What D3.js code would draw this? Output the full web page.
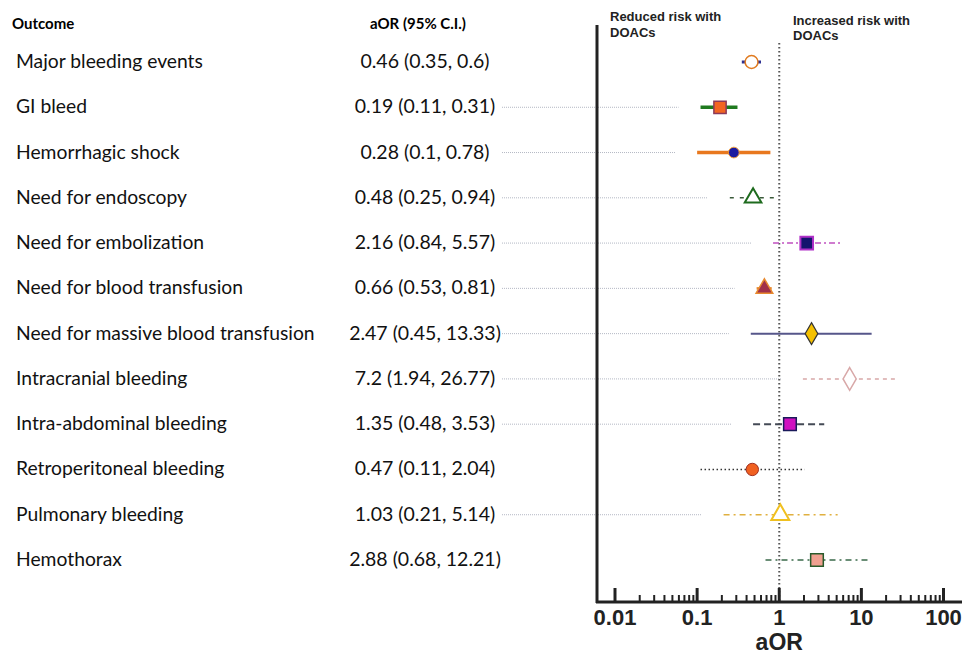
<!DOCTYPE html>
<html><head><meta charset="utf-8">
<script src="https://cdn.jsdelivr.net/npm/d3@7"></script>
<style>body{margin:0;background:#fff}svg{display:block}</style>
</head><body>
<svg id="c" width="962" height="656"></svg>
<script>
const outcomes = ["Major bleeding events","GI bleed","Hemorrhagic shock","Need for endoscopy","Need for embolization","Need for blood transfusion","Need for massive blood transfusion","Intracranial bleeding","Intra-abdominal bleeding","Retroperitoneal bleeding","Pulmonary bleeding","Hemothorax"];
const aor  = [0.46,0.19,0.28,0.48,2.16,0.66,2.47,7.2,1.35,0.47,1.03,2.88];
const low  = [0.35,0.11,0.1,0.25,0.84,0.53,0.45,1.94,0.48,0.11,0.21,0.68];
const high = [0.6,0.31,0.78,0.94,5.57,0.81,13.33,26.77,3.53,2.04,5.14,12.21];
const ciText = ["0.46 (0.35, 0.6)","0.19 (0.11, 0.31)","0.28 (0.1, 0.78)","0.48 (0.25, 0.94)","2.16 (0.84, 5.57)","0.66 (0.53, 0.81)","2.47 (0.45, 13.33)","7.2 (1.94, 26.77)","1.35 (0.48, 3.53)","0.47 (0.11, 2.04)","1.03 (0.21, 5.14)","2.88 (0.68, 12.21)"];
const tickValues = [0.01,0.1,1,10,100];
const tickLabels = ["0.01","0.1","1","10","100"];

// styles per row
const styles = [
  {sym:d3.symbolCircle, size:130, fill:"#fff", stroke:"#e07b20", sw:1.5, ci:"#2e3192", ciw:3, dash:null},
  {sym:d3.symbolSquare, size:150, fill:"#f26522", stroke:"#8b3a5a", sw:1.5, ci:"#1f7a1f", ciw:3.5, dash:null},
  {sym:d3.symbolCircle, size:90, fill:"#1a1aa0", stroke:"#f0a040", sw:1, ci:"#e8781e", ciw:3.5, dash:null},
  {sym:d3.symbolTriangle, size:120, fill:"#fff", stroke:"#1e6b1e", sw:2, ci:"#3a5a3a", ciw:1.5, dash:"4,6"},
  {sym:d3.symbolSquare, size:160, fill:"#14146e", stroke:"#b030c8", sw:2, ci:"#c050c0", ciw:1.5, dash:"6,3,2,3"},
  {sym:d3.symbolTriangle, size:120, fill:"#a0304a", stroke:"#e88a30", sw:1.5, ci:"#e88a30", ciw:2.5, dash:null},
  {sym:d3.symbolDiamond, size:140, fill:"#f5c000", stroke:"#333", sw:1.2, ci:"#56568a", ciw:2, dash:null},
  {sym:d3.symbolDiamond, size:150, fill:"#fff", stroke:"#d8a8a8", sw:1.5, ci:"#d8a8a8", ciw:1.5, dash:"4,4"},
  {sym:d3.symbolSquare, size:160, fill:"#d010c0", stroke:"#1a1a5a", sw:1.5, ci:"#444a55", ciw:2, dash:"7,4"},
  {sym:d3.symbolCircle, size:120, fill:"#f06020", stroke:"#a03020", sw:1, ci:"#333", ciw:1.5, dash:"1.5,2.5"},
  {sym:d3.symbolTriangle, size:140, fill:"#fff", stroke:"#f0c020", sw:2, ci:"#e0b040", ciw:1.5, dash:"6,4,2,4"},
  {sym:d3.symbolSquare, size:160, fill:"#f0a090", stroke:"#2a5a2a", sw:1.5, ci:"#3a6a4a", ciw:1.5, dash:"6,4,2,4"}
];
const guideRows = [1,2,3,4,5,6,7,8,10];

const svg = d3.select("#c");
const x = d3.scaleLog().domain([0.01,100]).range([615,943.5]);
const y = d3.scaleLinear().domain([0,11]).range([62,560]);

// headers
svg.append("text").attr("x",12).attr("y",29).attr("font-family","Lato").attr("font-weight","bold").attr("font-size",15).text("Outcome");
svg.append("text").attr("x",418).attr("y",29).attr("text-anchor","middle").attr("font-family","Lato").attr("font-weight","bold").attr("font-size",15).text("aOR (95% C.I.)");

// guides
svg.append("g").selectAll("line").data(guideRows).join("line")
  .attr("x1",502).attr("x2",i=>x(low[i])-22).attr("y1",i=>y(i)).attr("y2",i=>y(i))
  .attr("stroke","#b4b8c4").attr("stroke-width",1).attr("stroke-dasharray","1,1");

// labels
svg.append("g").selectAll("text").data(outcomes).join("text")
  .attr("x",16).attr("y",(d,i)=>y(i)+6).attr("font-family","Lato").attr("font-size",19.3).attr("fill","#111").text(d=>d);
svg.append("g").selectAll("text").data(ciText).join("text")
  .attr("x",425).attr("y",(d,i)=>y(i)+6).attr("text-anchor","middle").attr("font-family","Lato").attr("font-size",19.5).attr("fill","#111").text(d=>d);

// reference line
svg.append("line").attr("x1",x(1)).attr("x2",x(1)).attr("y1",43).attr("y2",601)
  .attr("stroke","#555").attr("stroke-width",2).attr("stroke-dasharray","1.5,2.5");

// axes lines
svg.append("line").attr("x1",597).attr("x2",597).attr("y1",25).attr("y2",603).attr("stroke","#222").attr("stroke-width",3);
svg.append("line").attr("x1",596).attr("x2",962).attr("y1",602).attr("y2",602).attr("stroke","#222").attr("stroke-width",3);

// ticks
const minor = [];
for (let e=-2;e<=2;e++) for (let m=2;m<=9;m++) minor.push(m*Math.pow(10,e));
svg.append("g").selectAll("line").data(minor.filter(v=>x(v)<962)).join("line")
  .attr("x1",d=>x(d)).attr("x2",d=>x(d)).attr("y1",595).attr("y2",602).attr("stroke","#222").attr("stroke-width",2);
svg.append("g").selectAll("line").data(tickValues).join("line")
  .attr("x1",d=>x(d)).attr("x2",d=>x(d)).attr("y1",588).attr("y2",602).attr("stroke","#222").attr("stroke-width",3);
svg.append("g").selectAll("text").data(tickValues).join("text")
  .attr("x",d=>x(d)).attr("y",625).attr("text-anchor","middle").attr("font-family","Liberation Sans, Arial").attr("font-weight","bold").attr("font-size",22).attr("fill","#222")
  .text((d,i)=>tickLabels[i]);
svg.append("text").attr("x",x(1)).attr("y",650).attr("text-anchor","middle").attr("font-family","Liberation Sans, Arial").attr("font-weight","bold").attr("font-size",23).attr("fill","#222").text("aOR");

// annotations
const ann = svg.append("g").attr("font-family","Liberation Sans, Arial").attr("font-weight","bold").attr("font-size",13).attr("fill","#222");
ann.append("text").attr("x",610).attr("y",21).text("Reduced risk with");
ann.append("text").attr("x",610).attr("y",37).text("DOACs");
ann.append("text").attr("x",793).attr("y",25).text("Increased risk with");
ann.append("text").attr("x",793).attr("y",40).text("DOACs");

// CIs
svg.append("g").selectAll("line").data(aor).join("line")
  .attr("x1",(d,i)=>x(low[i])).attr("x2",(d,i)=>x(high[i])).attr("y1",(d,i)=>y(i)).attr("y2",(d,i)=>y(i))
  .attr("stroke",(d,i)=>styles[i].ci).attr("stroke-width",(d,i)=>styles[i].ciw)
  .attr("stroke-dasharray",(d,i)=>styles[i].dash);

// markers
svg.append("g").selectAll("path").data(aor).join("path")
  .attr("transform",(d,i)=>`translate(${x(d)},${y(i)})`)
  .attr("d",(d,i)=>d3.symbol().type(styles[i].sym).size(styles[i].size)())
  .attr("fill",(d,i)=>styles[i].fill).attr("stroke",(d,i)=>styles[i].stroke).attr("stroke-width",(d,i)=>styles[i].sw);
</script>
</body></html>
